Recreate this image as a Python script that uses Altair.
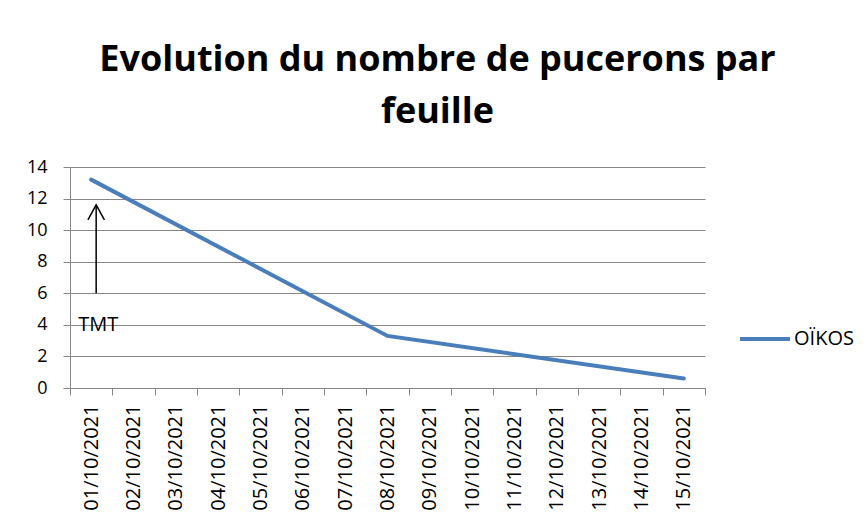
import altair as alt
import pandas as pd

dates = ["01/10/2021", "02/10/2021", "03/10/2021", "04/10/2021", "05/10/2021",
         "06/10/2021", "07/10/2021", "08/10/2021", "09/10/2021", "10/10/2021",
         "11/10/2021", "12/10/2021", "13/10/2021", "14/10/2021", "15/10/2021"]
obs_dates = ["01/10/2021", "08/10/2021", "15/10/2021"]
obs_values = [13.2, 3.3, 0.6]
series_name = "OÏKOS"

arrow_date = ["01/10/2021"]
arrow_from = [6]
arrow_to = [11.6]
label_text = ["TMT"]
label_y = [4]

FONT = "Open Sans"
GRAY = "#868686"
BLUE = "#4A7EBB"

line_df = pd.DataFrame({"date": obs_dates, "value": obs_values,
                        "serie": [series_name] * len(obs_dates)})
arrow_df = pd.DataFrame({"date": arrow_date, "y1": arrow_from, "y2": arrow_to})
label_df = pd.DataFrame({"date": arrow_date, "y": label_y, "txt": label_text})

xscale = alt.Scale(type="band", domain=dates, paddingInner=0, paddingOuter=0)
xaxis = alt.Axis(title=None, labelAngle=-90, labelAlign="right", labelBaseline="middle",
                 labelFont=FONT, labelFontSize=20, labelColor="black", labelPadding=9,
                 tickBand="extent", tickSize=7, tickColor=GRAY, domainColor=GRAY,
                 grid=False)
yscale = alt.Scale(domain=[0, 14], nice=False)
yaxis = alt.Axis(title=None, values=[0, 2, 4, 6, 8, 10, 12, 14], grid=True,
                 gridColor=GRAY, gridWidth=1, domainColor=GRAY, tickColor=GRAY,
                 tickSize=7, labelFont=FONT, labelFontSize=18, labelColor="black",
                 labelPadding=16)

line = alt.Chart(line_df).mark_line(strokeWidth=4, strokeCap="round").encode(
    x=alt.X("date:O", scale=xscale, axis=xaxis),
    y=alt.Y("value:Q", scale=yscale, axis=yaxis),
    color=alt.Color("serie:N", scale=alt.Scale(range=[BLUE]),
                    legend=alt.Legend(title=None, orient="none", legendX=668, legendY=145,
                                      symbolType="stroke", symbolSize=2500,
                                      symbolStrokeWidth=4, labelFont=FONT,
                                      labelFontSize=20, labelColor="black",
                                      labelOffset=2, padding=0)),
)

arrow = alt.Chart(arrow_df).mark_rule(color="black", strokeWidth=1.5, xOffset=5).encode(
    x=alt.X("date:O", scale=xscale, axis=xaxis),
    y=alt.Y("y1:Q", scale=yscale, axis=yaxis),
    y2="y2:Q",
)

head = alt.Chart(arrow_df).mark_point(
    shape="M -0.55 1 L 0 0 L 0.55 1", size=900, filled=False,
    color="black", strokeWidth=1.5, xOffset=5, opacity=1,
).encode(
    x=alt.X("date:O", scale=xscale, axis=xaxis),
    y=alt.Y("y2:Q", scale=yscale, axis=yaxis),
)

label = alt.Chart(label_df).mark_text(font=FONT, fontSize=20, color="black",
                                      xOffset=7, baseline="middle").encode(
    x=alt.X("date:O", scale=xscale, axis=xaxis),
    y=alt.Y("y:Q", scale=yscale, axis=yaxis),
    text="txt:N",
)

chart = alt.layer(line, arrow, head, label).properties(
    width=635, height=221,
    autosize=alt.AutoSizeParams(type="none"),
    padding={"left": 62, "top": 159, "right": 153, "bottom": 128},
    title=alt.TitleParams(
        text=["Evolution du nombre de pucerons par", "feuille"],
        font=FONT, fontSize=36, fontWeight="bold", color="black",
        anchor="middle", dx=50, offset=27, lineHeight=52,
    ),
).configure_view(stroke=None)

chart.save("out.html", embed_options={"renderer": "svg", "actions": False})
